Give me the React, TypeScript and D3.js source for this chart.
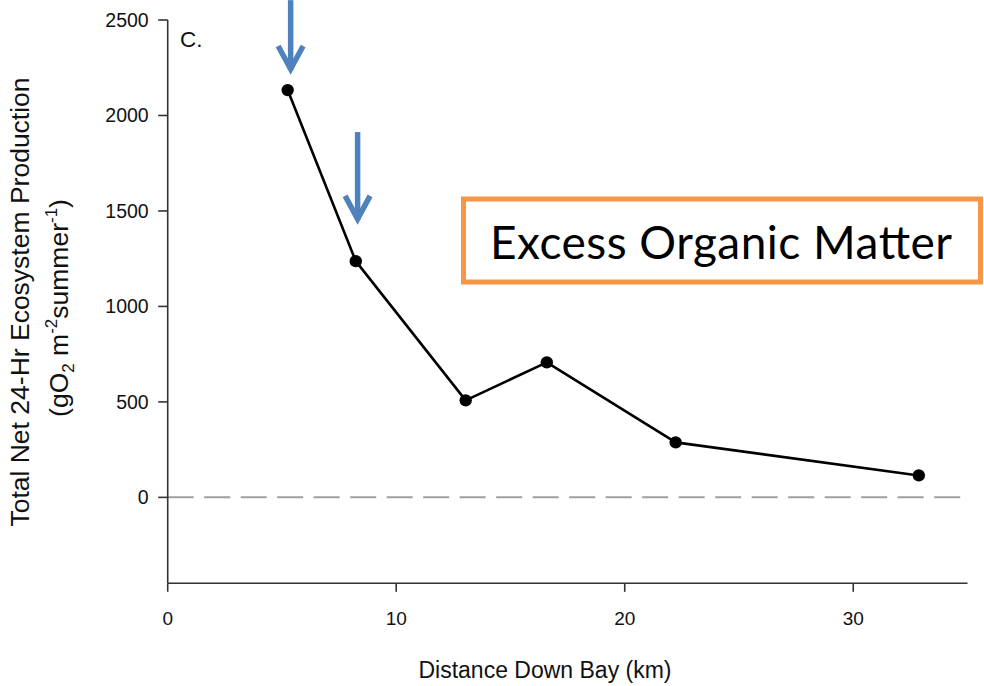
import React from "react";
import * as d3 from "d3";

// Station distances down the bay (km) and total net 24-hr ecosystem production
const distanceKm = [5.25, 8.23, 13.04, 16.59, 22.23, 32.87];
const netProduction = [2133, 1237, 508, 707, 288, 115];

const xTickValues = [0, 10, 20, 30];
const yTickValues = [0, 500, 1000, 1500, 2000, 2500];

// Callout arrows pointing at the upper-bay stations (x in km, y in production units)
const arrowXs = [5.38, 8.31];
const arrowStarts = [2604, 1913];
const arrowTips = [2217, 1432];

const AXIS_FONT = "'Liberation Sans', Arial, Helvetica, sans-serif";

export default function App() {
  const width = 984;
  const height = 686;

  const x = d3.scaleLinear().domain([0, 35]).range([167.7, 967.5]);
  const y = d3.scaleLinear().domain([-450, 2500]).range([583.3, 20]);

  const points = distanceKm.map((d, i) => [d, netProduction[i]] as [number, number]);
  const line = d3
    .line<[number, number]>()
    .x((d) => x(d[0]))
    .y((d) => y(d[1]));

  const axisColor = "#333";
  const arrowColor = "#4f81bd";

  return (
    <svg
      width={width}
      height={height}
      style={{ position: "fixed", left: 0, top: 0, background: "#fff" }}
    >
      <rect x={0} y={0} width={width} height={height} fill="#fff" />

      {/* zero reference line */}
      <line
        x1={x(0)}
        x2={x(35)}
        y1={y(0)}
        y2={y(0)}
        stroke="#a0a0a0"
        strokeWidth={2}
        strokeDasharray="26,10.5"
      />

      {/* y axis */}
      <line x1={x(0)} x2={x(0)} y1={y(2500)} y2={y(-450)} stroke={axisColor} strokeWidth={1.6} />
      {yTickValues.map((v) => (
        <g key={"yt" + v}>
          <line x1={x(0) - 9.5} x2={x(0)} y1={y(v)} y2={y(v)} stroke={axisColor} strokeWidth={1.6} />
          <text
            x={x(0) - 19}
            y={y(v)}
            dy="0.36em"
            textAnchor="end"
            fontFamily={AXIS_FONT}
            fontSize={19.5}
            fill="#111"
          >
            {v}
          </text>
        </g>
      ))}

      {/* x axis */}
      <line x1={x(0)} x2={x(35)} y1={y(-450)} y2={y(-450)} stroke={axisColor} strokeWidth={1.6} />
      {xTickValues.map((v) => (
        <g key={"xt" + v}>
          <line x1={x(v)} x2={x(v)} y1={y(-450)} y2={y(-450) + 8.5} stroke={axisColor} strokeWidth={1.6} />
          <text
            x={x(v)}
            y={625}
            textAnchor="middle"
            fontFamily={AXIS_FONT}
            fontSize={19}
            fill="#111"
          >
            {v}
          </text>
        </g>
      ))}

      {/* axis titles */}
      <text
        x={545}
        y={678}
        textAnchor="middle"
        fontFamily={AXIS_FONT}
        fontSize={23}
        fill="#111"
      >
        Distance Down Bay (km)
      </text>
      <text
        transform="translate(28.5,302) rotate(-90)"
        textAnchor="middle"
        fontFamily={AXIS_FONT}
        fontSize={26.5}
        fill="#111"
      >
        Total Net 24-Hr Ecosystem Production
      </text>
      <text
        transform="translate(68,308) rotate(-90)"
        textAnchor="middle"
        fontFamily={AXIS_FONT}
        fontSize={26.5}
        fill="#111"
      >
        (gO
        <tspan fontSize={17} dy={6}>2</tspan>
        <tspan dy={-6}> m</tspan>
        <tspan fontSize={17} dy={-11}>-2</tspan>
        <tspan dy={11}>summer</tspan>
        <tspan fontSize={17} dy={-11}>-1</tspan>
        <tspan dy={11}>)</tspan>
      </text>

      {/* panel letter */}
      <text x={180} y={46.7} fontFamily={AXIS_FONT} fontSize={22.5} fill="#111">
        C.
      </text>

      {/* data series */}
      <path d={line(points) || ""} fill="none" stroke="#000" strokeWidth={2.6} strokeLinejoin="round" />
      {points.map((p, i) => (
        <circle key={"pt" + i} cx={x(p[0])} cy={y(p[1])} r={6.2} fill="#000" />
      ))}

      {/* callout arrows */}
      {arrowXs.map((ax, i) => {
        const cx = x(ax);
        const top = y(arrowStarts[i]);
        const tip = y(arrowTips[i]);
        return (
          <g key={"ar" + i} stroke={arrowColor} strokeWidth={5.5} fill="none">
            <line x1={cx} x2={cx} y1={top} y2={tip - 4} strokeLinecap="butt" />
            <polyline
              points={`${cx - 12.5},${tip - 28} ${cx},${tip - 5} ${cx + 12.5},${tip - 28}`}
              strokeLinejoin="miter"
              strokeMiterlimit={10}
              strokeLinecap="butt"
            />
          </g>
        );
      })}

      {/* annotation box */}
      <rect x={463.5} y={199} width={517} height={83} fill="#fff" stroke="#f79646" strokeWidth={5} />
      <text
        x={490}
        y={259}
        fontFamily="Lato, 'Open Sans', sans-serif"
        fontSize={46}
        fill="#000"
        textLength={462}
        lengthAdjust="spacing"
      >
        Excess Organic Matter
      </text>
    </svg>
  );
}
